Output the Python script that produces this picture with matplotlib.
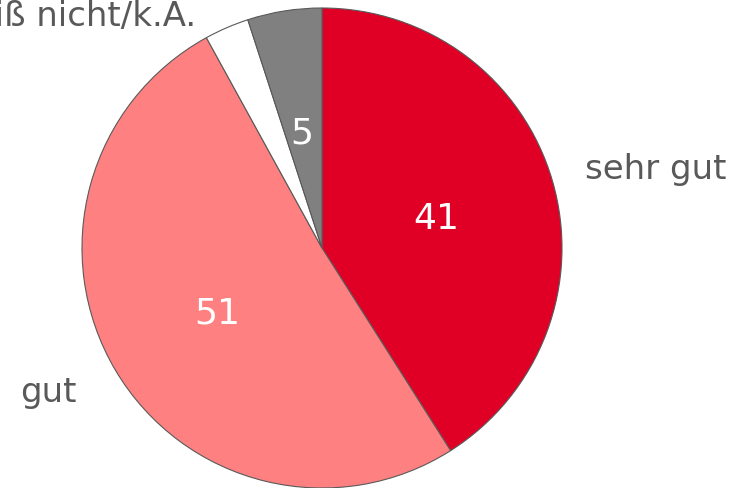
import numpy as np
import matplotlib
matplotlib.use("Agg")
import matplotlib.pyplot as plt

# slices clockwise from 12 o'clock
labels = ["sehr gut", "gut", "weiß nicht/k.A.", ""]
values = [41, 51, 3, 5]
shown = ["41", "51", "", "5"]
colors = ["#E00025", "#FF8080", "#FFFFFF", "#808080"]

# label placement (angle nudge in deg, distance in radii, alignment)
lab_nudge = [-3.0, -2.7, 5.2, 0]
lab_dist = [1.43, 1.29, 1.10, 1.2]
lab_ha = ["center", "center", "right", "center"]
num_dist = 0.5

fig = plt.figure(figsize=(7.36, 4.88), dpi=100)
ax = fig.add_axes([0, 0, 1, 1])

cx, cy, R = 322, 240, 240
wedges, _ = ax.pie(values, colors=colors, startangle=90, counterclock=False,
                   center=(cx, cy), radius=R, frame=True,
                   wedgeprops=dict(edgecolor="#595959", linewidth=0.8))
ax.set_xlim(0, 736)
ax.set_ylim(0, 488)
ax.axis("off")

for i, w in enumerate(wedges):
    mid = np.deg2rad((w.theta1 + w.theta2) / 2)
    if shown[i]:
        ax.annotate(shown[i], (cx + R*num_dist*np.cos(mid), cy + R*num_dist*np.sin(mid)),
                    xytext=(-1, -3), textcoords="offset points",
                    color="white", fontsize=26, ha="center", va="center")
    if labels[i]:
        a = mid + np.deg2rad(lab_nudge[i])
        ax.text(cx + R*lab_dist[i]*np.cos(a), cy + R*lab_dist[i]*np.sin(a), labels[i],
                color="#595959", fontsize=24.5, ha=lab_ha[i], va="center")

plt.savefig("out.png", dpi=100)
